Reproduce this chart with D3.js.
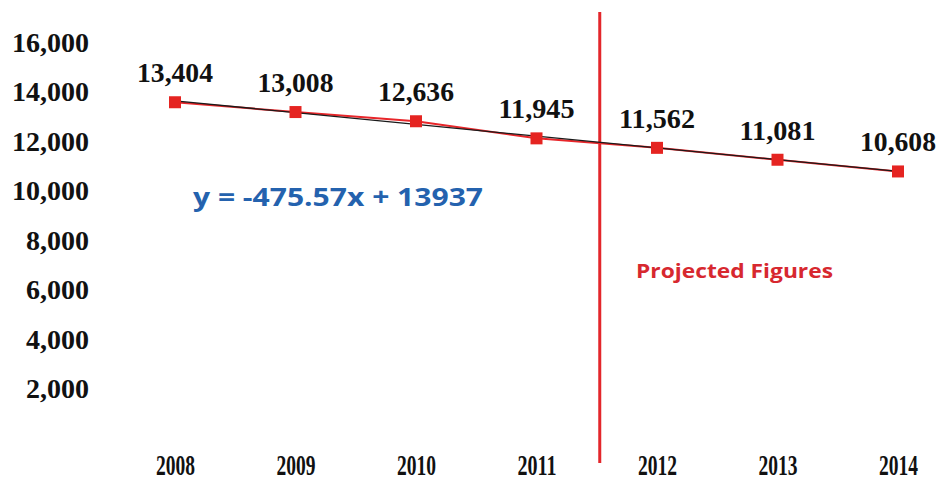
<!DOCTYPE html>
<html><head><meta charset="utf-8">
<script src="https://cdn.jsdelivr.net/npm/d3@7"></script>
<style>body{margin:0;background:#fff;}svg{display:block;}</style>
</head><body>
<svg id="c" width="942" height="481"></svg>
<script>
const years = ["2008","2009","2010","2011","2012","2013","2014"];
const values = [13404, 13008, 12636, 11945, 11562, 11081, 10608];
const yTicks = [2000, 4000, 6000, 8000, 10000, 12000, 14000, 16000];
const trendSlope = -475.57, trendIntercept = 13937;
const equationText = "y = -475.57x + 13937";
const projectedText = "Projected Figures";

const svg = d3.select("#c");
const x = d3.scalePoint().domain(years).range([175, 898]);
const y = d3.scaleLinear().domain([0, 16000]).range([434, 38]);
const fmt = d3.format(",");

// y axis labels (no line)
const yAxis = d3.axisLeft(y).tickValues(yTicks).tickFormat(fmt).tickSize(0).tickPadding(0);
const gy = svg.append("g").attr("transform", "translate(89,0)").call(yAxis);
gy.select(".domain").remove();
gy.selectAll("text")
  .attr("font-family", "'Liberation Serif', serif").attr("font-weight", "bold")
  .attr("font-size", 28).attr("fill", "#111").attr("dy", "0.36em")
  .attr("transform", "translate(0,3)");

// x axis labels
const xAxis = d3.axisBottom(x).tickSize(0).tickPadding(0);
const gx = svg.append("g").attr("transform", "translate(0,475)").call(xAxis);
gx.select(".domain").remove();
gx.selectAll("text")
  .attr("font-family", "'Liberation Serif', serif").attr("font-weight", "bold")
  .attr("font-size", 29).attr("fill", "#111").attr("dy", "0")
  .attr("textLength", 39).attr("lengthAdjust", "spacingAndGlyphs");

// vertical divider
const xDiv = (x("2011") + x("2012")) / 2 + 3;
svg.append("line").attr("x1", xDiv).attr("x2", xDiv).attr("y1", 12).attr("y2", 463)
  .attr("stroke", "#e3262b").attr("stroke-width", 3);

// data line
const line = d3.line().x((d, i) => x(years[i])).y(d => y(d));
svg.append("path").datum(values).attr("d", line)
  .attr("fill", "none").attr("stroke", "#e8262a").attr("stroke-width", 2);

// trend line
const trend = years.map((yr, i) => trendSlope * (i + 1) + trendIntercept);
svg.append("path").datum(trend).attr("d", line)
  .attr("fill", "none").attr("stroke", "#1a1a1a").attr("stroke-width", 1.3);

// markers
svg.selectAll("rect.m").data(values).enter().append("rect").attr("class", "m")
  .attr("x", (d, i) => x(years[i]) - 6).attr("y", d => y(d) - 6)
  .attr("width", 12).attr("height", 12).attr("fill", "#e52421");

// data labels
svg.selectAll("text.v").data(values).enter().append("text").attr("class", "v")
  .attr("x", (d, i) => x(years[i])).attr("y", d => y(d) - 20)
  .attr("text-anchor", "middle")
  .attr("font-family", "'Liberation Serif', serif").attr("font-weight", "bold")
  .attr("font-size", 28).attr("fill", "#111")
  .attr("textLength", 76).attr("lengthAdjust", "spacingAndGlyphs")
  .text(d => fmt(d));

// equation
svg.append("text").attr("x", 193).attr("y", 206)
  .attr("font-family", "'Open Sans', sans-serif").attr("font-weight", "bold")
  .attr("font-size", 25).attr("fill", "#2462ae")
  .attr("textLength", 290).attr("lengthAdjust", "spacingAndGlyphs")
  .text(equationText);

// projected label
svg.append("text").attr("x", 636).attr("y", 278)
  .attr("font-family", "'Open Sans', sans-serif").attr("font-weight", "bold")
  .attr("font-size", 20).attr("fill", "#d7282f")
  .attr("textLength", 197).attr("lengthAdjust", "spacingAndGlyphs")
  .text(projectedText);
</script>
</body></html>
